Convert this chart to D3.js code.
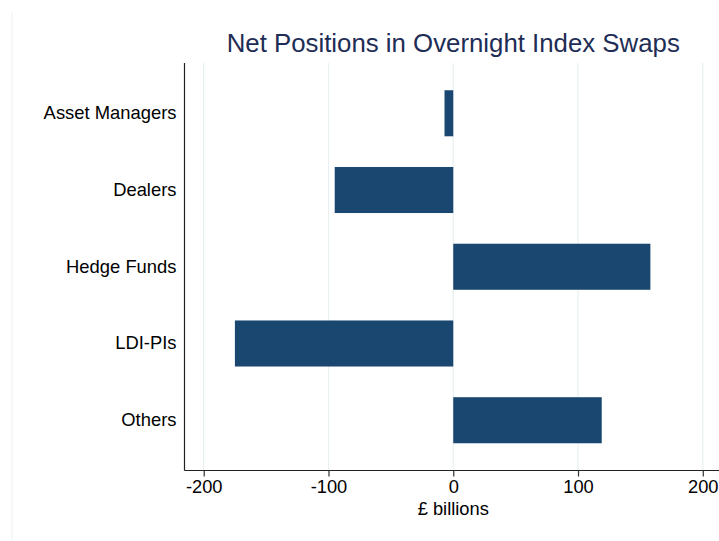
<!DOCTYPE html>
<html>
<head>
<meta charset="utf-8">
<script src="https://cdn.jsdelivr.net/npm/d3@7"></script>
<style>
  body { margin: 0; background: #fff; }
  svg { display: block; font-family: Arial, "Liberation Sans", sans-serif; }
</style>
</head>
<body>
<div id="chart"></div>
<script>
// data
var categories = ["Asset Managers", "Dealers", "Hedge Funds", "LDI-PIs", "Others"];
var positions = [-7, -95, 158, -175, 119];
var xTicks = [-200, -100, 0, 100, 200];

var width = 719, height = 541;
var plot = {left: 184.5, right: 722, top: 63, bottom: 470.5};

var svg = d3.select("#chart").append("svg")
  .attr("width", width)
  .attr("height", height);

// faint region edge on the left
svg.append("line")
  .attr("x1", 12).attr("x2", 12)
  .attr("y1", 12).attr("y2", height)
  .attr("stroke", "#eef0f0")
  .attr("stroke-width", 1);

var x = d3.scaleLinear()
  .domain([-215.4, 215.4])
  .range([plot.left, plot.right]);

var y = d3.scaleBand()
  .domain(categories)
  .range([plot.top, plot.bottom])
  .paddingInner(0.4)
  .paddingOuter(0.355);

// grid
svg.append("g")
  .selectAll("line")
  .data(xTicks)
  .enter().append("line")
  .attr("x1", function(d) { return x(d); })
  .attr("x2", function(d) { return x(d); })
  .attr("y1", plot.top)
  .attr("y2", plot.bottom)
  .attr("stroke", "#e8f0f2")
  .attr("stroke-width", 1.2);

// bars
svg.append("g")
  .selectAll("rect")
  .data(categories)
  .enter().append("rect")
  .attr("x", function(d, i) { return x(Math.min(0, positions[i])); })
  .attr("width", function(d, i) { return Math.abs(x(positions[i]) - x(0)); })
  .attr("y", function(d) { return y(d); })
  .attr("height", y.bandwidth())
  .attr("fill", "#1a476f");

// x axis (plain hyphen for negatives, like the original)
var xAxis = svg.append("g")
  .attr("transform", "translate(0," + plot.bottom + ")")
  .call(d3.axisBottom(x).tickValues(xTicks).tickSize(6).tickSizeOuter(0).tickPadding(4)
    .tickFormat(function(d) { return String(d); }));
xAxis.select(".domain").remove();
xAxis.append("line")
  .attr("x1", plot.left).attr("x2", width)
  .attr("stroke", "#222").attr("stroke-width", 1.2);
xAxis.selectAll(".tick line").attr("stroke", "#333").attr("stroke-width", 1.2);
xAxis.selectAll(".tick text")
  .attr("fill", "#000")
  .style("font-size", "18.3px")
  .style("font-family", "Arial, 'Liberation Sans', sans-serif");

// y axis: line and labels, no ticks
var yAxis = svg.append("g")
  .attr("transform", "translate(" + plot.left + ",0)")
  .call(d3.axisLeft(y).tickSize(0).tickPadding(8));
yAxis.select(".domain").remove();
yAxis.append("line")
  .attr("y1", plot.top).attr("y2", plot.bottom)
  .attr("stroke", "#222").attr("stroke-width", 1.2);
yAxis.selectAll(".tick text")
  .attr("fill", "#000")
  .style("font-size", "18.4px")
  .style("font-family", "Arial, 'Liberation Sans', sans-serif");

// axis title
svg.append("text")
  .attr("x", x(0))
  .attr("y", 515)
  .attr("text-anchor", "middle")
  .style("font-size", "18.3px")
  .attr("fill", "#000")
  .text("£ billions");

// chart title
svg.append("text")
  .attr("x", x(0))
  .attr("y", 52)
  .attr("text-anchor", "middle")
  .style("font-size", "25.8px")
  .attr("fill", "#1e2d55")
  .text("Net Positions in Overnight Index Swaps");
</script>
</body>
</html>
